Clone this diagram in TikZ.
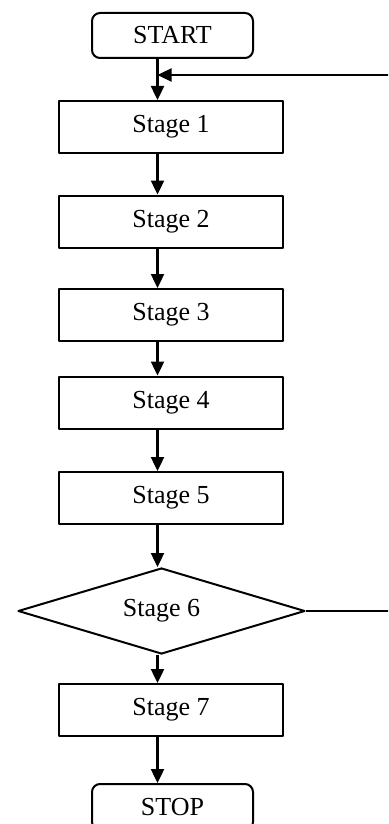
\documentclass[tikz,border=0pt]{standalone}
\usepackage{fontspec}
\setmainfont{Liberation Serif}
\usetikzlibrary{shapes.geometric,arrows.meta}
\begin{document}
\begin{tikzpicture}[x=0.5pt, y=-0.5pt, font=\fontsize{13}{15}\selectfont, line join=round, >={Triangle[length=7pt,width=6.5pt]}]
\tikzset{stagebox/.style={draw, line width=1pt, minimum width=112pt, minimum height=26pt, inner sep=0pt},
  termbox/.style={draw, line width=1pt, rounded corners=4pt, minimum width=80.5pt, minimum height=22.5pt, inner sep=0pt},
  testbox/.style={draw, diamond, line width=1pt, shape aspect=3.3, minimum width=143.5pt, minimum height=43pt, inner sep=0pt},
  flow/.style={->, line width=1.2pt}}
\useasboundingbox (0,0) rectangle (388,824);
\clip (0,0) rectangle (388,824);
\node[termbox] (start) at (172.5,35.5) {START};
\node[stagebox] (s1) at (171,127) {Stage 1};
\node[stagebox] (s2) at (171,221.5) {Stage 2};
\node[stagebox] (s3) at (171,315) {Stage 3};
\node[stagebox] (s4) at (171,402.5) {Stage 4};
\node[stagebox] (s5) at (171,498) {Stage 5};
\node[testbox] (s6) at (161.5,611) {Stage 6};
\node[stagebox] (s7) at (171,710) {Stage 7};
\node[termbox, minimum height=23pt] (stop) at (172.5,807) {STOP};
\coordinate (col) at (157.5,0);
\coordinate (back) at (390,75);
\coordinate (out) at (390,611);
\foreach \a/\b in {start/s1,s1/s2,s2/s3,s3/s4,s4/s5,s5/s6,s6/s7,s7/stop}
  \draw[flow] (col |- \a.south) -- (col |- \b.north);
\draw[flow] (back) -- (back -| col); % loop back from Stage 6
\draw[line width=1.2pt] (s6.east) -- (out);
\end{tikzpicture}
\end{document}
